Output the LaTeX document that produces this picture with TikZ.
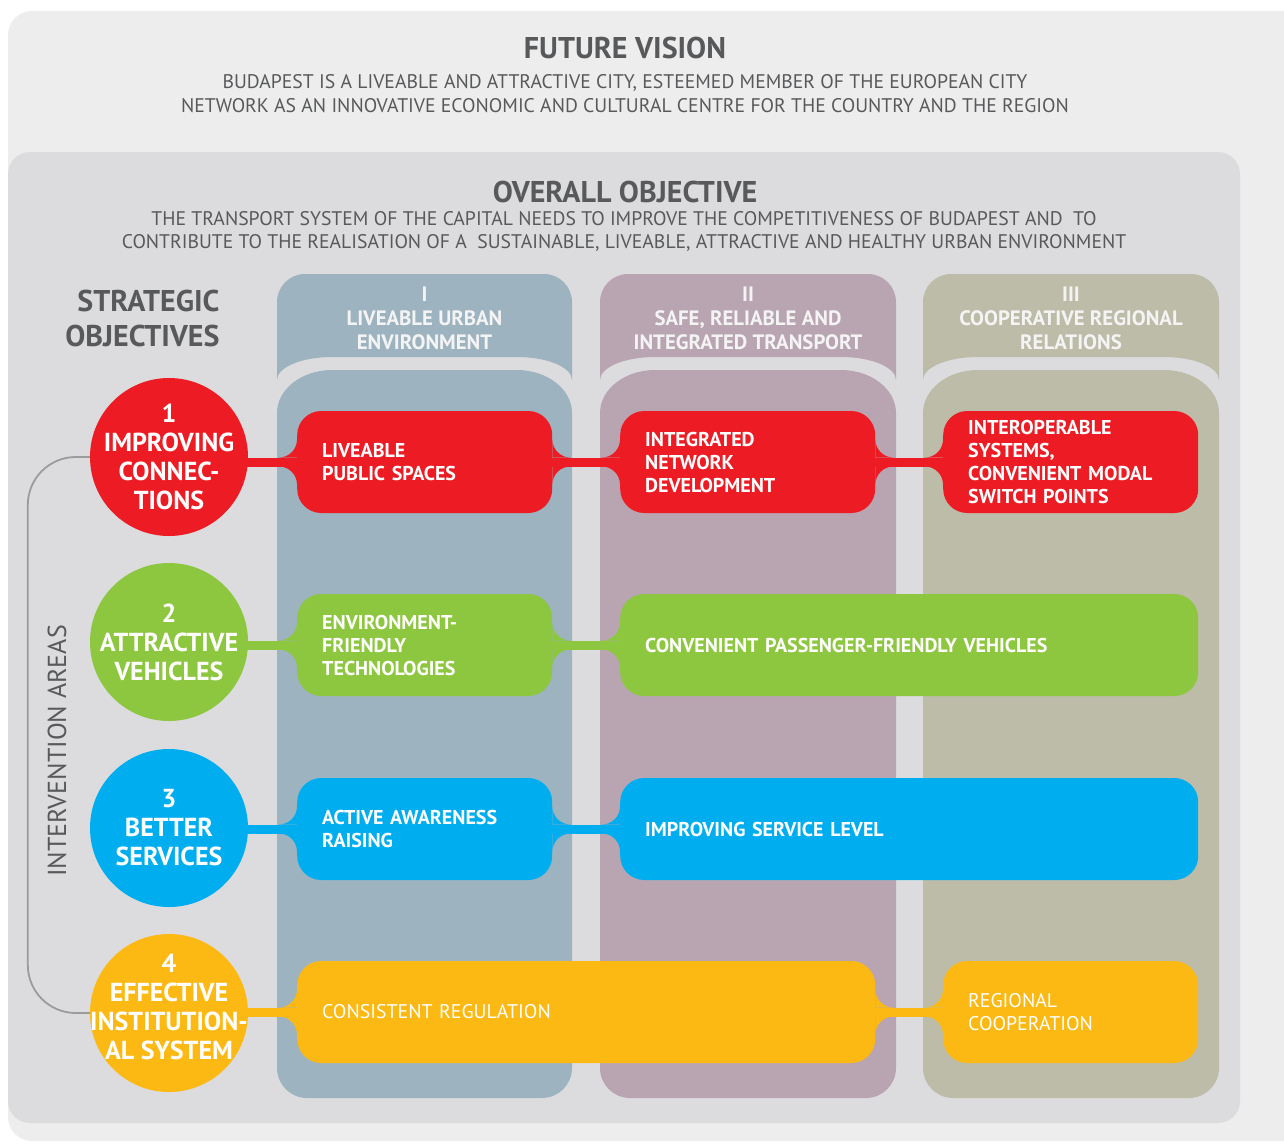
\documentclass[tikz,border=0pt]{standalone}
\usepackage{fontspec}
\setmainfont{PT Sans}
\usetikzlibrary{positioning}

\definecolor{pagebg}{HTML}{EDEDED}
\definecolor{panelbg}{HTML}{DCDCDE}
\definecolor{colI}{HTML}{9EB3C0}
\definecolor{colII}{HTML}{B9A5B2}
\definecolor{colIII}{HTML}{BDBCA8}
\definecolor{soRed}{HTML}{ED1C24}
\definecolor{soGreen}{HTML}{8DC63F}
\definecolor{soBlue}{HTML}{00AEEF}
\definecolor{soYellow}{HTML}{FDB913}
\definecolor{ink}{HTML}{58595B}
\definecolor{headtxt}{HTML}{F4F4F4}
\definecolor{bracketgray}{HTML}{9B9B9B}

% flares where a neck meets a box
\newcommand\flareL[2]{% box to the right of #1
  \fill[#2] (#1) ++(0,-4.5) -- ++(0,-18) arc[start angle=0,end angle=90,radius=18] -- cycle;
  \fill[#2] (#1) ++(0,4.5) -- ++(0,18) arc[start angle=0,end angle=-90,radius=18] -- cycle;}
\newcommand\flareR[2]{% box to the left of #1
  \fill[#2] (#1) ++(0,-4.5) -- ++(0,-18) arc[start angle=180,end angle=90,radius=18] -- cycle;
  \fill[#2] (#1) ++(0,4.5) -- ++(0,18) arc[start angle=180,end angle=270,radius=18] -- cycle;}

\begin{document}
\begin{tikzpicture}[x=1pt, y=-1pt,
  goal/.style={circle, minimum size=158pt, inner sep=0pt},
  goaltext/.style={align=center, text=white, inner sep=0pt,
    font=\bfseries\fontsize{26}{29}\selectfont},
  area/.style={rounded corners=24pt, minimum height=102pt, inner xsep=25pt, inner ysep=0pt,
    anchor=west, align=left, text=white, font=\bfseries\fontsize{20}{23}\selectfont},
  narrow/.style={text width=205pt},
  wide/.style={text width=528pt},
  plain/.style={font=\fontsize{19.8}{23}\selectfont},
  neck/.style={line width=9pt},
  heading/.style={text=ink, font=\bfseries\fontsize{30}{34}\selectfont},
  lead/.style={text=ink, align=center, font=\fontsize{19.7}{23.5}\selectfont},
  colhead/.style={text=headtxt, align=center, font=\bfseries\fontsize{20.8}{24}\selectfont},
  bracket/.style={draw=bracketgray, line width=1.8pt, rounded corners=48pt}]
  \useasboundingbox (0,0) rectangle (1284,1143);
  % Panels
  \fill[pagebg, rounded corners=24pt] (8,11) rectangle (1330,1141);
  \fill[panelbg, rounded corners=22pt] (8,152) rectangle (1240,1123);
  % Pillars with their headers
  \foreach \l/\r/\c/\t/\n in {277/572/colI/{I\\LIVEABLE URBAN\\ENVIRONMENT}/h1,
      600/896/colII/{II\\SAFE, RELIABLE AND\\INTEGRATED TRANSPORT}/h2,
      923/1219/colIII/{III\\COOPERATIVE REGIONAL\\RELATIONS}/h3} {
    \fill[\c] (\l,380) -- (\l,302) arc[start angle=180,end angle=270,radius=28]
      -- (\r-28,274) arc[start angle=270,end angle=360,radius=28]
      -- (\r,380) arc[start angle=0,end angle=-90,x radius=55,y radius=23]
      -- (\l+55,357) arc[start angle=270,end angle=180,x radius=55,y radius=23] -- cycle;
    \fill[\c] (\l,1068) -- (\l,413) arc[start angle=180,end angle=270,x radius=55,y radius=43]
      -- (\r-55,370) arc[start angle=270,end angle=360,x radius=55,y radius=43]
      -- (\r,1068) arc[start angle=0,end angle=90,radius=30]
      -- (\l+30,1098) arc[start angle=90,end angle=180,radius=30] -- cycle;
    \node[colhead] (\n) at ({(\l+\r)/2},318) {\t};
  }
  % Titles
  \node[heading] (vision) at (625,48) {FUTURE VISION};
  \node[lead] (visiontxt) at (625,93.5) {BUDAPEST IS A LIVEABLE AND ATTRACTIVE CITY, ESTEEMED MEMBER OF THE EUROPEAN CITY\\
    NETWORK AS AN INNOVATIVE ECONOMIC AND CULTURAL CENTRE FOR THE COUNTRY AND THE REGION};
  \node[heading] (overall) at (625,192) {OVERALL OBJECTIVE};
  \node[lead] (overalltxt) at (624,231.5) {THE TRANSPORT SYSTEM OF THE CAPITAL NEEDS TO IMPROVE THE COMPETITIVENESS OF BUDAPEST AND~ TO\\
    CONTRIBUTE TO THE REALISATION OF A~ SUSTAINABLE, LIVEABLE, ATTRACTIVE AND HEALTHY URBAN ENVIRONMENT};
  \node[heading, align=right, anchor=east, font=\bfseries\fontsize{30}{35}\selectfont] (strategic) at (223,318) {STRATEGIC\\OBJECTIVES};
  \node[text=ink, rotate=90, font=\fontsize{26}{30}\selectfont] (interv) at (57,751) {INTERVENTION AREAS};
  % Strategic objectives
  \foreach \n/\y/\d/\c/\t in {1/457/0/soRed/{1\\IMPROVING\\CONNEC-\\TIONS},
      2/642/0/soGreen/{2\\ATTRACTIVE\\VEHICLES},
      3/828/0/soBlue/{3\\BETTER\\SERVICES},
      4/1013/6/soYellow/{4\\EFFECTIVE\\INSTITUTION-\\AL SYSTEM}} {
    \node[goal, fill=\c] (g\n) at (169,\y) {};
    \node[goaltext] (t\n) at ([yshift=\d pt]g\n.center) {\t};
  }
  \draw[bracket] (g1.west) -- ++(-62,0) |- (g4.west);
  % Intervention areas
  \node[area, narrow, fill=soRed] (a11) at (297,462) {LIVEABLE\\PUBLIC SPACES};
  \node[area, narrow, fill=soRed] (a12) at (620,462) {INTEGRATED\\NETWORK\\DEVELOPMENT};
  \node[area, narrow, fill=soRed] (a13) at (943,462) {INTEROPERABLE\\SYSTEMS,\\CONVENIENT MODAL\\SWITCH POINTS};
  \node[area, narrow, fill=soGreen] (a21) at (297,645) {ENVIRONMENT-\\FRIENDLY\\TECHNOLOGIES};
  \node[area, wide, fill=soGreen] (a22) at (620,645) {CONVENIENT PASSENGER-FRIENDLY VEHICLES};
  \node[area, narrow, fill=soBlue] (a31) at (297,829) {ACTIVE AWARENESS\\RAISING};
  \node[area, wide, fill=soBlue] (a32) at (620,829) {IMPROVING SERVICE LEVEL};
  \node[area, wide, plain, fill=soYellow] (a41) at (297,1012) {CONSISTENT REGULATION};
  \node[area, narrow, plain, fill=soYellow] (a42) at (943,1012) {REGIONAL\\COOPERATION};
  % Necks
  \foreach \r/\c in {1/soRed, 2/soGreen, 3/soBlue, 4/soYellow}
    \draw[neck, \c] ([xshift=-4pt]g\r.east |- a\r1.west) -- (a\r1.west);
  \draw[neck, soRed] (a11.east) -- (a12.west);
  \draw[neck, soRed] (a12.east) -- (a13.west);
  \draw[neck, soGreen] (a21.east) -- (a22.west);
  \draw[neck, soBlue] (a31.east) -- (a32.west);
  \draw[neck, soYellow] (a41.east) -- (a42.west);
  \foreach \b/\c in {a11/soRed, a12/soRed, a13/soRed, a21/soGreen, a22/soGreen,
      a31/soBlue, a32/soBlue, a41/soYellow, a42/soYellow}
    \flareL{\b.west}{\c};
  \foreach \b/\c in {a11/soRed, a12/soRed, a21/soGreen, a31/soBlue, a41/soYellow}
    \flareR{\b.east}{\c};
\end{tikzpicture}
\end{document}
